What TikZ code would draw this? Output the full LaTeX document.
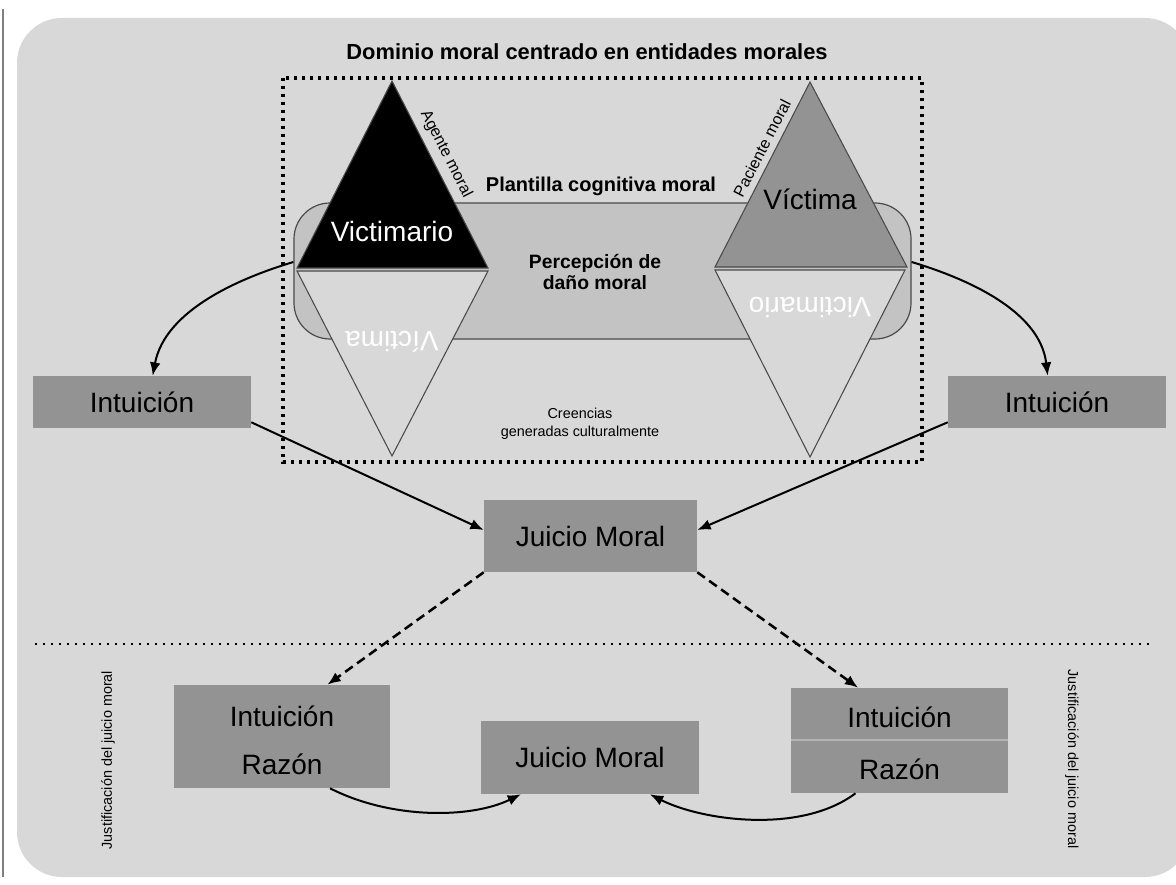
\documentclass[tikz,border=0pt]{standalone}
\usepackage{fontspec}
\setmainfont{Liberation Sans}
\usetikzlibrary{arrows.meta}
\definecolor{bgc}{HTML}{D8D8D8}
\definecolor{boxc}{HTML}{939393}
\definecolor{rectc}{HTML}{C3C3C3}
\definecolor{edgec}{HTML}{4A4A4A}
\definecolor{divc}{HTML}{B4B4B4}
\begin{document}
\begin{tikzpicture}[x=0.75pt,y=-0.75pt,
  box/.style={fill=boxc, draw=none, inner sep=0pt},
  big/.style={font=\fontsize{21}{25}\selectfont, inner sep=0pt},
  conn/.style={line width=1.5pt, -{Latex[length=10pt,width=8pt]}},
  dconn/.style={line width=1.9pt, dash pattern=on 7pt off 4pt, -{Latex[length=10pt,width=8pt]}},
  tri/.style={draw=edgec, line width=0.8pt, line join=miter},
  edgelabel/.style={font=\fontsize{12}{14}\selectfont, inner sep=0pt},
  side/.style={font=\fontsize{10.8}{13}\selectfont, inner sep=0pt}]
\useasboundingbox (0,0) rectangle (1176,884);
\fill[white] (0,0) rectangle (1176,884);
% background panel
\fill[bgc, rounded corners=33.75pt] (17,18) rectangle (1190,877);
\draw[gray, line width=0.8pt] (3,9) -- (3,877);

% title
\node[font=\bfseries\fontsize{16.4}{20}\selectfont, inner sep=0pt] (title) at (587,52) {Dominio moral centrado en entidades morales};

% central rounded rectangle
\node[draw=edgec, fill=rectc, line width=0.9pt, rounded corners=27pt,
      minimum width=462.75pt, minimum height=102pt, inner sep=0pt] (cr) at (602.5,271) {};

% triangles
\fill[black] (392,81) -- (488,268) -- (297,268) -- cycle;
\draw[tri] (392,81) -- (488,268) -- (297,268) -- cycle;
\fill[bgc] (297,271) -- (488,271) -- (392,456) -- cycle;
\draw[tri] (297,271) -- (488,271) -- (392,456) -- cycle;
\fill[boxc] (810,82) -- (907,267) -- (715,267) -- cycle;
\draw[tri] (810,82) -- (907,267) -- (715,267) -- cycle;
\fill[bgc] (715,270) -- (905,270) -- (810,457) -- cycle;
\draw[tri] (715,270) -- (905,270) -- (810,457) -- cycle;

% dotted frame
\draw[line width=2.6pt, dash pattern=on 2.6pt off 3.4pt] (283,78) rectangle (922,462);

% texts inside frame
\node[big, text=white] (vtop) at (392,231) {Victimario};
\node[big, text=white, rotate=180] (vbot) at (392,342) {Víctima};
\node[big, text=black] (vvtop) at (810,199) {Víctima};
\node[big, text=white, rotate=180] (vvbot) at (810,308) {Victimario};
\node[edgelabel, rotate=-62.8] (agente) at (446,154) {Agente moral};
\node[edgelabel, rotate=62.8] (paciente) at (762,148) {Paciente moral};
\node[font=\bfseries\fontsize{15}{18}\selectfont, inner sep=0pt] (plant) at (601,186) {Plantilla cognitiva moral};
\node[font=\bfseries\fontsize{14.5}{15.75}\selectfont, align=center, inner sep=0pt] (perc) at (595,272) {Percepción de\\daño moral};
\node[font=\fontsize{10.8}{13.5}\selectfont, align=center, inner sep=0pt] (cre) at (580,424) {Creencias\\generadas culturalmente};

% boxes
\node[box, big, minimum width=163.5pt, minimum height=39pt] (il) at (142,402) {Intuición};
\node[box, big, minimum width=163.5pt, minimum height=39pt] (ir) at (1057,402) {Intuición};
\node[box, big, minimum width=159.75pt, minimum height=54pt] (jm) at (590.5,536) {Juicio Moral};

% separator
\draw[line width=1.8pt, dash pattern=on 1.8pt off 4.2pt] (35,644) -- (1150,644);

% bottom boxes
\node[box, minimum width=162pt, minimum height=77.25pt] (bl) at (282,736.5) {};
\node[big] (bli) at (282,716) {Intuición};
\node[big] (blr) at (282,764) {Razón};
\node[box, minimum width=162.75pt, minimum height=78.75pt] (br) at (899.5,740.5) {};
\draw[divc, line width=0.8pt] (br.west |- 0,740) -- (br.east |- 0,740);
\node[big] (bri) at (899.5,717) {Intuición};
\node[big] (brr) at (899.5,769) {Razón};
\node[box, big, minimum width=163.5pt, minimum height=54.75pt] (jb) at (590,757.5) {Juicio Moral};

% side labels
\node[side, rotate=90] (sl) at (108,760) {Justificación del juicio moral};
\node[side, rotate=-90] (sr) at (1072,759) {Justificación del juicio moral};

% connectors
\draw[conn] ([yshift=6.75pt]cr.west) .. controls (240,278) and (165,310) .. ([xshift=8pt]il.north);
\draw[conn] ([yshift=6.75pt]cr.east) .. controls (965,278) and (1040,310) .. ([xshift=-7pt]ir.north);
\draw[conn] ([yshift=4.5pt]il.south east) -- ([yshift=4.5pt]jm.west);
\draw[conn] ([yshift=4.5pt]ir.south west) -- ([yshift=4.5pt]jm.east);
\draw[dconn] (jm.south west) -- ([xshift=34pt]bl.north);
\draw[dconn] (jm.south east) -- ([xshift=-31pt]br.north);
\draw[conn] ([xshift=36pt]bl.south) .. controls (390,819) and (470,819) .. ([xshift=-51.75pt]jb.south);
\draw[conn] ([xshift=-33pt]br.south) .. controls (800,835) and (700,820) .. ([xshift=45pt]jb.south);
\end{tikzpicture}
\end{document}
